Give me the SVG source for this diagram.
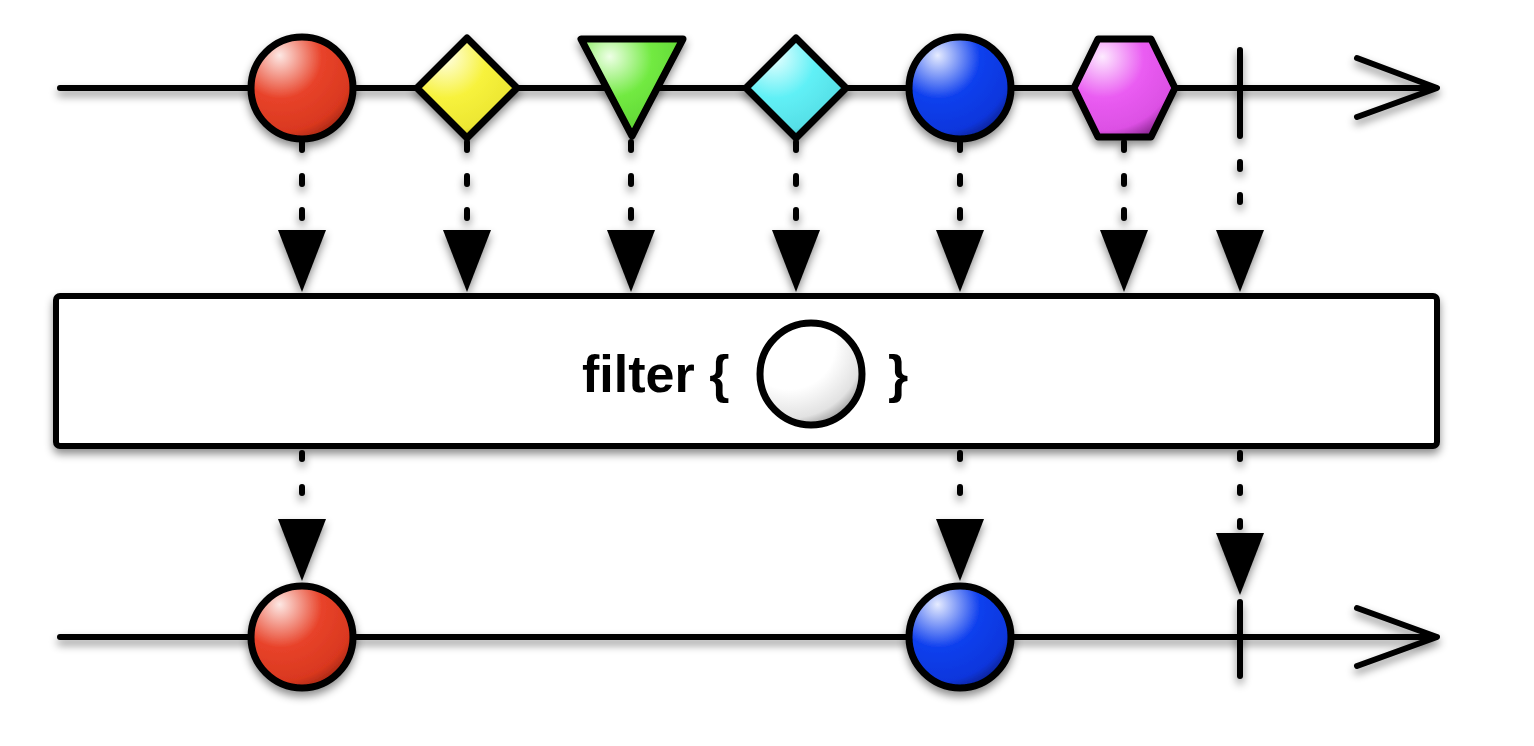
<svg xmlns="http://www.w3.org/2000/svg" xmlns:xlink="http://www.w3.org/1999/xlink" width="1534" height="746" viewBox="0 0 1534 746">
<style>
.ln{stroke:#000;stroke-width:6;fill:none;stroke-linecap:round;stroke-linejoin:round}
.sh{stroke:#000;stroke-width:7;stroke-linejoin:round}
.dot{stroke:#000;stroke-width:6;fill:none;stroke-linecap:round}
.lbl{font-family:"Liberation Sans",Arial,Helvetica,sans-serif;font-weight:bold;font-size:52px;fill:#000}
</style>
<defs>
<filter id="ds" filterUnits="userSpaceOnUse" x="0" y="0" width="1534" height="746">
<feDropShadow dx="0" dy="5" stdDeviation="4" flood-color="#000" flood-opacity="0.45"/>
</filter>
<radialGradient id="gRed" cx="0.3" cy="0.22" r="0.9" fx="0.28" fy="0.18">
<stop offset="0" stop-color="#fde8e4"/><stop offset="0.45" stop-color="#e8432a"/><stop offset="0.8" stop-color="#d9381f"/><stop offset="1" stop-color="#8a1e0e"/></radialGradient>
<radialGradient id="gYel" cx="0.3" cy="0.22" r="0.9" fx="0.28" fy="0.18">
<stop offset="0" stop-color="#ffffe6"/><stop offset="0.45" stop-color="#f7f23c"/><stop offset="0.8" stop-color="#ece632"/><stop offset="1" stop-color="#8f8a10"/></radialGradient>
<radialGradient id="gGrn" cx="0.3" cy="0.22" r="0.9" fx="0.28" fy="0.18">
<stop offset="0" stop-color="#eeffe6"/><stop offset="0.45" stop-color="#72ea42"/><stop offset="0.8" stop-color="#62d836"/><stop offset="1" stop-color="#2f7a14"/></radialGradient>
<radialGradient id="gCyn" cx="0.3" cy="0.22" r="0.9" fx="0.28" fy="0.18">
<stop offset="0" stop-color="#e8ffff"/><stop offset="0.45" stop-color="#60f0f6"/><stop offset="0.8" stop-color="#56dfe6"/><stop offset="1" stop-color="#1f7f86"/></radialGradient>
<radialGradient id="gBlu" cx="0.3" cy="0.22" r="0.9" fx="0.28" fy="0.18">
<stop offset="0" stop-color="#e6ecff"/><stop offset="0.45" stop-color="#1040ee"/><stop offset="0.8" stop-color="#0a36dc"/><stop offset="1" stop-color="#04166e"/></radialGradient>
<radialGradient id="gMag" cx="0.3" cy="0.22" r="0.9" fx="0.28" fy="0.18">
<stop offset="0" stop-color="#fdeaff"/><stop offset="0.45" stop-color="#ea5cf2"/><stop offset="0.8" stop-color="#dc50e4"/><stop offset="1" stop-color="#7a1e80"/></radialGradient>
<radialGradient id="gWht" cx="0.3" cy="0.22" r="0.9" fx="0.28" fy="0.18">
<stop offset="0" stop-color="#ffffff"/><stop offset="0.5" stop-color="#ffffff"/><stop offset="0.8" stop-color="#e2e2e2"/><stop offset="1" stop-color="#7a7a7a"/></radialGradient>
<path id="ah" d="M-24,0 L24,0 L0,62 Z" fill="#000"/>
<polygon id="dia" points="0,-50 50,0 0,50 -50,0"/>
<circle id="ball" r="51"/>
</defs>

<g id="timelines" filter="url(#ds)">
<g id="source-line">
<path class="ln" d="M60,88 H1435"/>
<path class="ln" d="M1357,58 L1437,88 L1357,117"/>
</g>
<g id="result-line">
<path class="ln" d="M60,637 H1435"/>
<path class="ln" d="M1357,608 L1437,637 L1357,666"/>
</g>
</g>

<g id="connectors" filter="url(#ds)">
<path class="dot" d="M302,142 V222" stroke-dasharray="8 26"/>
<path class="dot" d="M467,142 V222" stroke-dasharray="8 26"/>
<path class="dot" d="M631,142 V222" stroke-dasharray="8 26"/>
<path class="dot" d="M796,142 V222" stroke-dasharray="8 26"/>
<path class="dot" d="M960,142 V222" stroke-dasharray="8 26"/>
<path class="dot" d="M1124,142 V222" stroke-dasharray="8 26"/>
<path class="dot" d="M1240,162 V226" stroke-dasharray="7 26"/>
<use href="#ah" x="302" y="230"/>
<use href="#ah" x="467" y="230"/>
<use href="#ah" x="631" y="230"/>
<use href="#ah" x="796" y="230"/>
<use href="#ah" x="960" y="230"/>
<use href="#ah" x="1124" y="230"/>
<use href="#ah" x="1240" y="230"/>
<path class="dot" d="M302,453 V514" stroke-dasharray="6 28"/>
<path class="dot" d="M960,453 V514" stroke-dasharray="6 28"/>
<path class="dot" d="M1240,453 V528" stroke-dasharray="6 28"/>
<use href="#ah" x="302" y="519"/>
<use href="#ah" x="960" y="519"/>
<use href="#ah" x="1240" y="533"/>
</g>

<g id="src-red" filter="url(#ds)"><use href="#ball" x="302" y="88" class="sh" fill="url(#gRed)"/></g>
<g id="src-yellow" filter="url(#ds)"><use href="#dia" x="467" y="88" class="sh" fill="url(#gYel)"/></g>
<g id="src-green" filter="url(#ds)"><polygon class="sh" points="581,39 683,39 632,136" fill="url(#gGrn)"/></g>
<g id="src-cyan" filter="url(#ds)"><use href="#dia" x="796" y="88" class="sh" fill="url(#gCyn)"/></g>
<g id="src-blue" filter="url(#ds)"><use href="#ball" x="960" y="88" class="sh" fill="url(#gBlu)"/></g>
<g id="src-magenta" filter="url(#ds)"><polygon class="sh" points="1074,88 1098,39 1151,39 1175,88 1151,137 1098,137" fill="url(#gMag)"/></g>
<g id="src-complete" filter="url(#ds)"><path class="ln" d="M1240,50 V136"/></g>

<g id="filter-box" filter="url(#ds)">
<rect x="56" y="296" width="1381" height="150" rx="4" fill="#fff" stroke="#000" stroke-width="6"/>
<text class="lbl" x="582" y="392">filter {</text>
<circle cx="811" cy="374" r="51" class="sh" fill="url(#gWht)"/>
<text class="lbl" x="888" y="392">}</text>
</g>

<g id="out-red" filter="url(#ds)"><use href="#ball" x="302" y="637" class="sh" fill="url(#gRed)"/></g>
<g id="out-blue" filter="url(#ds)"><use href="#ball" x="960" y="637" class="sh" fill="url(#gBlu)"/></g>
<g id="out-complete" filter="url(#ds)"><path class="ln" d="M1240,602 V676"/></g>
</svg>
